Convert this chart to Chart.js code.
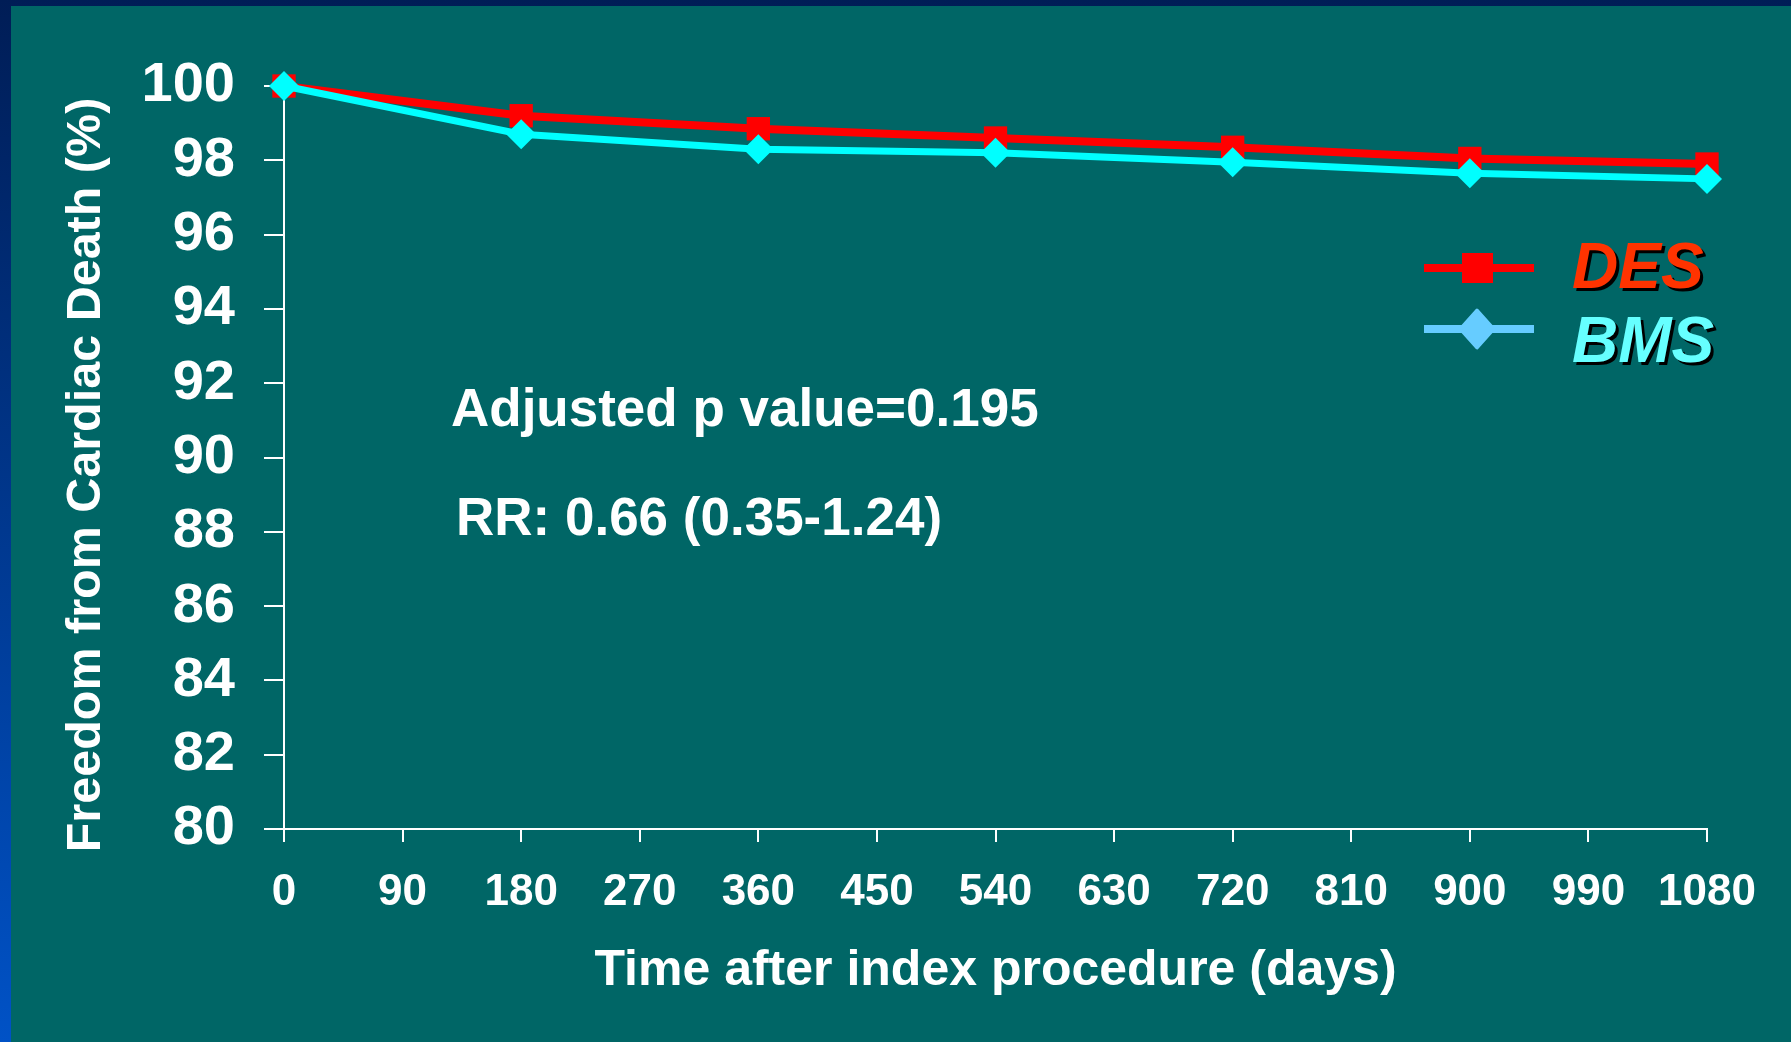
<!DOCTYPE html>
<html>
<head>
<meta charset="utf-8">
<title>Freedom from Cardiac Death</title>
<script src="https://cdn.jsdelivr.net/npm/chart.js@4.4.1/dist/chart.umd.min.js"></script>
<style>
    html, body { margin: 0; padding: 0; }
    body {
        width: 1791px;
        height: 1042px;
        overflow: hidden;
        position: relative;
        background: linear-gradient(to bottom, #001d56 0%, #0052c6 100%);
    }
    #panel { position: absolute; left: 11px; top: 6px; right: 0; bottom: 0; background: #006666; }
    #survival-chart { position: absolute; left: 0; top: 0; }
</style>
</head>
<body>
<div id="panel"></div>
<canvas id="survival-chart" width="1791" height="1042"></canvas>
<script>
// =======================
// Data
// =======================
const days = [0, 180, 360, 540, 720, 900, 1080];
const desValues = [100, 99.2, 98.85, 98.6, 98.35, 98.05, 97.9];
const bmsValues = [100, 98.7, 98.3, 98.2, 97.95, 97.65, 97.5];
const seriesNames = ['DES', 'BMS'];
const xTickValues = [0, 90, 180, 270, 360, 450, 540, 630, 720, 810, 900, 990, 1080];
const yTickValues = [80, 82, 84, 86, 88, 90, 92, 94, 96, 98, 100];
const notes = ['Adjusted p value=0.195', 'RR: 0.66 (0.35-1.24)'];

const FONT = '"Liberation Sans", Arial, sans-serif';

// =======================
// Extra text: y title, notes and the legend
// =======================
const slideText = {
    id: 'slideText',
    afterDraw(chart) {
        const ctx = chart.ctx;
        ctx.save();

        // y axis title
        ctx.save();
        ctx.translate(87, 475);
        ctx.rotate(-Math.PI / 2);
        ctx.font = 'bold 48.5px ' + FONT;
        ctx.fillStyle = '#ffffff';
        ctx.textAlign = 'center';
        ctx.textBaseline = 'middle';
        ctx.fillText('Freedom from Cardiac Death (%)', 0, 0);
        ctx.restore();

        // p value / RR notes
        ctx.font = 'bold 53px ' + FONT;
        ctx.fillStyle = '#ffffff';
        ctx.textAlign = 'left';
        ctx.textBaseline = 'alphabetic';
        ctx.fillText(notes[0], 451, 426);
        ctx.fillText(notes[1], 456, 535);

        // legend
        const lineColors = ['#ff0000', '#66ccff'];
        const textColors = ['#ff3300', '#66ffff'];
        const rowY = [268, 329];
        chart.data.datasets.forEach((ds, i) => {
            const y = rowY[i];
            ctx.strokeStyle = lineColors[i];
            ctx.fillStyle = lineColors[i];
            ctx.lineWidth = 8;
            ctx.beginPath();
            ctx.moveTo(1424, y);
            ctx.lineTo(1534, y);
            ctx.stroke();
            if (i === 0) {
                ctx.fillRect(1462, y - 15, 31, 30);
            } else {
                ctx.lineJoin = 'round';
                ctx.lineWidth = 3;
                ctx.beginPath();
                ctx.moveTo(1477, y - 19);
                ctx.lineTo(1494, y);
                ctx.lineTo(1477, y + 19);
                ctx.lineTo(1460, y);
                ctx.closePath();
                ctx.fill();
                ctx.stroke();
            }
            ctx.font = 'italic bold 64px ' + FONT;
            ctx.textBaseline = 'alphabetic';
            ctx.shadowColor = '#000000';
            ctx.shadowOffsetX = 3;
            ctx.shadowOffsetY = 3;
            ctx.shadowBlur = 0;
            ctx.fillStyle = textColors[i];
            ctx.fillText(ds.label, 1572, y + 20 + i * 13);
            ctx.shadowColor = 'transparent';
        });

        ctx.restore();
    }
};

// =======================
// The Line Graph
// =======================
const survivalCanvas = document.querySelector('#survival-chart');
const survivalData = {
    datasets: [{
        label: seriesNames[0],
        data: days.map((d, i) => ({ x: d, y: desValues[i] })),
        borderColor: '#ff0000',
        backgroundColor: '#ff0000',
        borderWidth: 8,
        pointStyle: 'rect',
        pointRadius: 16.5,
        pointBorderWidth: 0,
        tension: 0,
        clip: false,
        order: 1
    }, {
        label: seriesNames[1],
        data: days.map((d, i) => ({ x: d, y: bmsValues[i] })),
        borderColor: '#00ffff',
        backgroundColor: '#00ffff',
        borderWidth: 7,
        pointStyle: 'rectRot',
        pointRadius: 15,
        pointBorderWidth: 0,
        tension: 0,
        clip: false,
        order: 0
    }]
};
const survivalOptions = {
    responsive: false,
    devicePixelRatio: 1,
    animation: false,
    layout: {
        padding: { left: 0, top: 86, right: 84, bottom: 0 }
    },
    scales: {
        x: {
            type: 'linear',
            min: 0,
            max: 1080,
            afterFit: scale => { scale.height = 213; },
            afterBuildTicks: scale => { scale.ticks = xTickValues.map(v => ({ value: v })); },
            border: { color: '#ffffff', width: 2 },
            grid: { drawOnChartArea: false, color: '#ffffff', lineWidth: 2, tickLength: 13 },
            ticks: {
                color: '#ffffff',
                padding: 24,
                maxRotation: 0,
                callback: value => String(value),
                font: { family: FONT, size: 44, weight: 'bold' }
            },
            title: {
                display: true,
                text: 'Time after index procedure (days)',
                color: '#ffffff',
                padding: { top: 0, bottom: 41 },
                font: { family: FONT, size: 50, weight: 'bold' }
            }
        },
        y: {
            min: 80,
            max: 100,
            afterFit: scale => { scale.width = 284; },
            afterBuildTicks: scale => { scale.ticks = yTickValues.map(v => ({ value: v })); },
            border: { color: '#ffffff', width: 2 },
            grid: { drawOnChartArea: false, color: '#ffffff', lineWidth: 2, tickLength: 20 },
            ticks: {
                color: '#ffffff',
                padding: 29,
                font: { family: FONT, size: 56, weight: 'bold' }
            }
        }
    },
    plugins: {
        legend: { display: false },
        tooltip: { enabled: false }
    }
};
let survivalChart = new Chart(survivalCanvas, {
    type: 'line',
    data: survivalData,
    options: survivalOptions,
    plugins: [slideText]
});
</script>
</body>
</html>
